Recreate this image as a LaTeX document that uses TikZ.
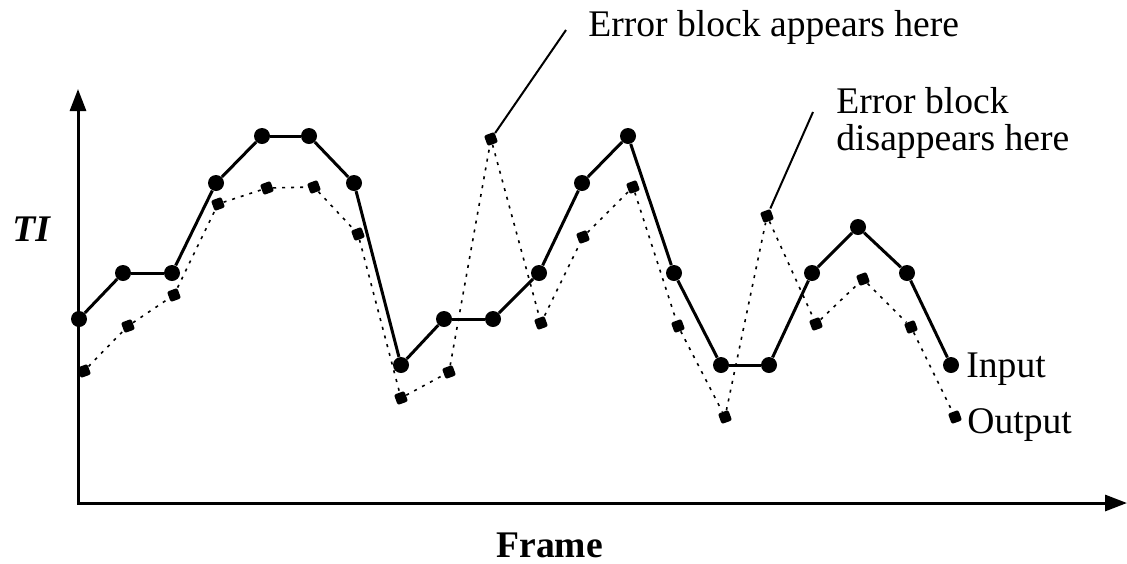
\documentclass[tikz,border=0pt]{standalone}
\usepackage{fontspec}
\setmainfont{Liberation Serif}
\usetikzlibrary{arrows.meta}

\begin{document}
\begin{tikzpicture}[x=0.5pt, y=-0.5pt,
  axis/.style={line width=1.5pt, {Triangle[length=11pt, width=8pt]}-{Triangle[length=11pt, width=8pt]}},
  indot/.style={circle, fill=black, inner sep=0pt, minimum size=8pt},
  outdot/.style={rectangle, rounded corners=1pt, rotate=20, fill=black, inner sep=0pt, minimum size=5.5pt},
  inpath/.style={line width=1.5pt},
  outpath/.style={line width=0.8pt, dash pattern=on 1.5pt off 3pt},
  leader/.style={line width=1pt},
  txt/.style={font=\fontsize{18.8}{22}\selectfont, inner sep=0pt, anchor=base west}]

  \useasboundingbox (0,0) rectangle (1127,563);

  % Axes
  \coordinate (origin) at (78,503);
  \coordinate (ytip) at (78,89);
  \coordinate (xtip) at (1127,503);
  \draw [axis] (ytip) -- (origin) -- (xtip);

  % Nodes
  \foreach \x/\y [count=\i] in {79/319, 123/273, 172/273, 216/183, 262/136, 309/136, 354/183, 401/365, 444/319, 493/319,
      539/273, 582/183, 628/136, 674/273, 721/365, 769/365, 812/273, 858/227, 907/273, 951/365}
    \node (in\i) [indot] at (\x,\y) {};
  \foreach \x/\y [count=\i] in {84/371, 128/326, 174/295, 218/204, 267/188, 314/187, 358/234, 401/398, 449/372, 491/139,
      541/323, 583/237, 633/187, 678/326, 725/417, 767/216, 816/324, 863/279, 911/327, 955/417}
    \node (out\i) [outdot] at (\x,\y) {};

  \node (ti) [txt, font=\fontsize{18.8}{22}\selectfont\bfseries\itshape] at (12,241) {TI};
  \node (frame) [txt, font=\fontsize{18.8}{22}\selectfont\bfseries] at (496,557) {Frame};
  \node (input) [txt] at (966,377) {Input};
  \node (output) [txt] at (967,433) {Output};
  \node (appears) [txt] at (588,36) {Error block appears here};
  \node (disap1) [txt] at (836,113) {Error block};
  \node (disap2) [txt] at (836,150) {disappears here};
  \coordinate (apptop) at (566,30);
  \coordinate (distop) at (813,112);

  % Lines
  \foreach \i [remember=\i as \j (initially 1)] in {2,...,20} {
    \draw [inpath] (in\j) -- (in\i);
    \draw [outpath] (out\j) -- (out\i);
  }
  \draw [leader] (out10) -- (apptop);
  \draw [leader] (out16) -- (distop);
\end{tikzpicture}
\end{document}
